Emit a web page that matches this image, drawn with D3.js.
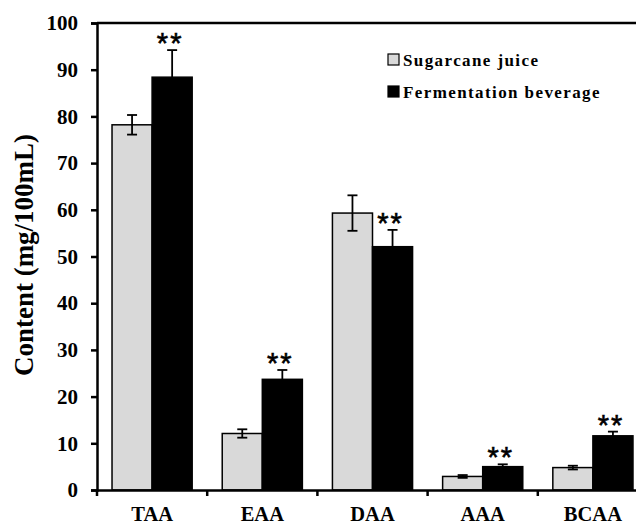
<!DOCTYPE html>
<html>
<head>
<meta charset="utf-8">
<script src="https://cdn.jsdelivr.net/npm/d3@7"></script>
<style>
  html, body { margin: 0; padding: 0; background: #fff; }
  svg { display: block; }
</style>
</head>
<body>
<svg id="chart" width="636" height="525"></svg>
<script>
const categories = ["TAA", "EAA", "DAA", "AAA", "BCAA"];
const seriesNames = ["Sugarcane juice", "Fermentation beverage"];
const sugarcane = [78.2, 12.1, 59.3, 2.9, 4.8];
const sugarcaneErr = [2.1, 0.9, 3.8, 0.3, 0.4];
const fermentation = [88.4, 23.7, 52.1, 5.0, 11.6];
const fermentationErr = [5.8, 2.0, 3.6, 0.5, 0.9];
const significance = ["**", "**", "**", "**", "**"];
const yTicks = [0, 10, 20, 30, 40, 50, 60, 70, 80, 90, 100];

const colors = ["#d9d9d9", "#000000"];
const svg = d3.select("#chart");
const margin = { left: 97, top: 23, right: -12 };
const W = 636;
const plotRight = W - margin.right; // frame continues past the visible window (cropped like the reference)
const plotBottom = 490;

const x0 = d3.scaleBand().domain(categories).range([margin.left, plotRight]).paddingInner(0).paddingOuter(0);
const x1 = d3.scaleBand().domain(seriesNames).range([0, x0.bandwidth()]).paddingInner(0).paddingOuter(0.375);
const y = d3.scaleLinear().domain([0, 100]).range([plotBottom, margin.top]);

const serif = "'Liberation Serif', 'Times New Roman', serif";

const data = categories.map((c, i) => ({
  cat: c,
  vals: [
    { s: seriesNames[0], v: sugarcane[i], e: sugarcaneErr[i] },
    { s: seriesNames[1], v: fermentation[i], e: fermentationErr[i] }
  ],
  sig: significance[i]
}));

const groups = svg.append("g").selectAll("g").data(data).join("g")
  .attr("transform", d => `translate(${x0(d.cat)},0)`);

groups.selectAll("rect").data(d => d.vals).join("rect")
  .attr("x", d => x1(d.s))
  .attr("y", d => y(d.v))
  .attr("width", x1.bandwidth())
  .attr("height", d => y(0) - y(d.v))
  .attr("fill", (d, i) => colors[i])
  .attr("stroke", "#000")
  .attr("stroke-width", 1.5);

// Error bars
const capW = 10;
groups.selectAll("g.err").data(d => d.vals).join("g").attr("class", "err")
  .each(function(d) {
    const g = d3.select(this);
    const cx = x1(d.s) + x1.bandwidth() / 2;
    const add = (xa, xb, ya, yb) => g.append("line").attr("x1", xa).attr("x2", xb).attr("y1", ya).attr("y2", yb)
      .attr("stroke", "#000").attr("stroke-width", 1.8);
    add(cx, cx, y(d.v + d.e), y(d.v - d.e));
    add(cx - capW / 2, cx + capW / 2, y(d.v + d.e), y(d.v + d.e));
    add(cx - capW / 2, cx + capW / 2, y(d.v - d.e), y(d.v - d.e));
  });

// Significance marks
groups.append("text")
  .attr("x", x1(seriesNames[1]) + x1.bandwidth() / 2 - 2)
  .attr("y", d => y(d.vals[1].v + d.vals[1].e) + 3)
  .attr("text-anchor", "middle")
  .attr("font-family", "'Liberation Sans', Arial, sans-serif")
  .attr("font-size", 29)
  .attr("letter-spacing", 2)
  .attr("stroke", "#000").attr("stroke-width", 0.6)
  .attr("fill", "#000")
  .text(d => d.sig);

// Top frame line
svg.append("line")
  .attr("x1", margin.left).attr("x2", plotRight)
  .attr("y1", margin.top).attr("y2", margin.top)
  .attr("stroke", "#000").attr("stroke-width", 2.5);

// Y axis
const yAxis = svg.append("g")
  .attr("transform", `translate(${margin.left},0)`)
  .call(d3.axisLeft(y).tickValues(yTicks).tickSize(6).tickPadding(13).tickFormat(d3.format("d")));
yAxis.select(".domain").attr("stroke-width", 2.5);
yAxis.selectAll(".tick line").attr("stroke-width", 2.5);
yAxis.selectAll("text")
  .attr("font-family", serif).attr("font-weight", "bold").attr("font-size", 21).attr("fill", "#000");

// X axis
const xAxis = svg.append("g")
  .attr("transform", `translate(0,${plotBottom})`)
  .call(d3.axisBottom(x0).tickSize(0).tickPadding(16));
xAxis.select(".domain").attr("stroke-width", 2.5);
xAxis.selectAll("text")
  .attr("font-family", serif).attr("font-weight", "bold").attr("font-size", 20.5).attr("fill", "#000");
const boundaries = categories.map(c => x0(c)).concat([x0(categories[categories.length - 1]) + x0.bandwidth()]);
xAxis.selectAll("line.bound").data(boundaries).join("line").attr("class", "bound")
  .attr("x1", d => d).attr("x2", d => d).attr("y1", 0).attr("y2", 6)
  .attr("stroke", "#000").attr("stroke-width", 2.5);

// Y axis title
svg.append("text")
  .attr("transform", "translate(33,255) rotate(-90)")
  .attr("text-anchor", "middle")
  .attr("font-family", serif).attr("font-weight", "bold").attr("font-size", 27)
  .attr("fill", "#000")
  .text("Content (mg/100mL)");

// Legend
const legend = svg.append("g").attr("transform", "translate(388,54)");
seriesNames.forEach((name, i) => {
  const g = legend.append("g").attr("transform", `translate(0,${i * 32})`);
  g.append("rect").attr("x", 0).attr("y", 0).attr("width", 11).attr("height", 11)
    .attr("fill", colors[i]).attr("stroke", "#000").attr("stroke-width", 1.2);
  g.append("text").attr("x", 15).attr("y", 11.5)
    .attr("font-family", serif).attr("font-weight", "bold").attr("font-size", 17)
    .attr("letter-spacing", 1.4)
    .attr("fill", "#000").text(name);
});
</script>
</body>
</html>
